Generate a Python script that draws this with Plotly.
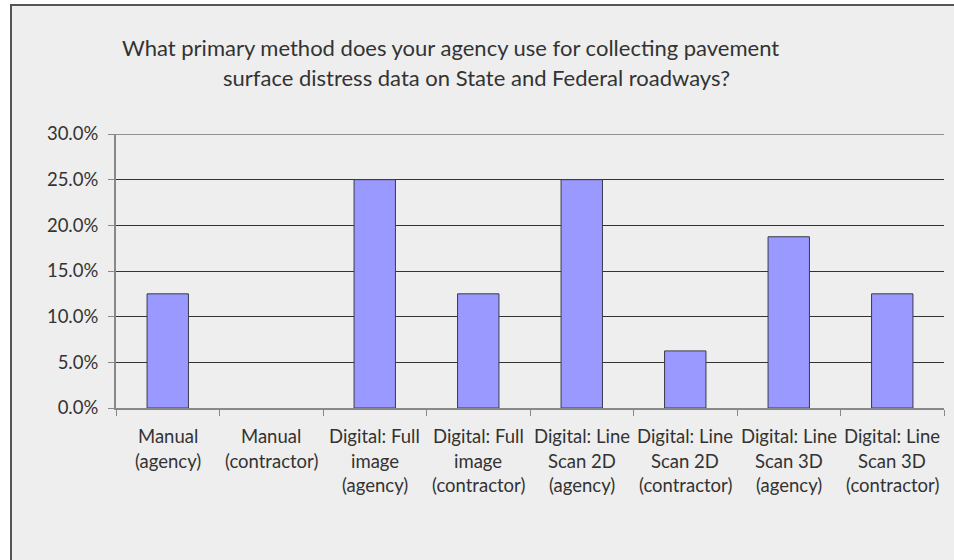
import plotly.graph_objects as go

# Survey responses: share of agencies by primary distress data collection method
categories = [
    "Manual (agency)",
    "Manual (contractor)",
    "Digital: Full image (agency)",
    "Digital: Full image (contractor)",
    "Digital: Line Scan 2D (agency)",
    "Digital: Line Scan 2D (contractor)",
    "Digital: Line Scan 3D (agency)",
    "Digital: Line Scan 3D (contractor)",
]
label_lines = [
    ["Manual", "(agency)"],
    ["Manual", "(contractor)"],
    ["Digital: Full", "image", "(agency)"],
    ["Digital: Full", "image", "(contractor)"],
    ["Digital: Line", "Scan 2D", "(agency)"],
    ["Digital: Line", "Scan 2D", "(contractor)"],
    ["Digital: Line", "Scan 3D", "(agency)"],
    ["Digital: Line", "Scan 3D", "(contractor)"],
]
shares = [0.125, 0.0, 0.25, 0.125, 0.25, 0.0625, 0.1875, 0.125]
y_ticks = [0.0, 0.05, 0.10, 0.15, 0.20, 0.25, 0.30]
title_lines = [
    "What primary method does your agency use for collecting pavement",
    "surface distress data on State and Federal roadways?",
]

FONT = "Lato"
TEXT = "#333333"
GRID = "#333333"

fig = go.Figure()
fig.add_trace(go.Bar(
    x=categories,
    y=shares,
    marker=dict(
        color="#9999FF",
        line=dict(color="#3a3a4a", width=[1 if v > 0 else 0 for v in shares]),
    ),
    hoverinfo="x+y",
))

W, H = 954, 560
ml, mr, mt, mb = 116, 10, 134, 152
pw, ph = W - ml - mr, H - mt - mb

def px_x(px):
    return (px - ml) / pw

def px_y(py):
    return (H - mb - py) / ph

shapes = [
    # Chart-area frame
    dict(
        type="rect", xref="paper", yref="paper", layer="below",
        x0=px_x(11), x1=px_x(W + 20), y0=px_y(H + 20), y1=px_y(5),
        fillcolor="#EEEEEE", line=dict(color="#555555", width=2),
    ),
    # Gridline at the top of the value range
    dict(
        type="line", xref="paper", yref="y", layer="below",
        x0=0, x1=1, y0=y_ticks[-1], y1=y_ticks[-1],
        line=dict(color=GRID, width=1),
    ),
]

annotations = []
# Title, two centred lines
for text, cx, cy in zip(title_lines, [450, 476], [47, 77]):
    annotations.append(dict(
        text=text, xref="paper", yref="paper", x=px_x(cx), y=px_y(cy),
        xanchor="center", yanchor="middle", showarrow=False,
        font=dict(family=FONT, size=22, color=TEXT),
    ))

# Category labels, one annotation per line under each bar
for cat, lines in zip(categories, label_lines):
    for i, line in enumerate(lines):
        annotations.append(dict(
            text=line, x=cat, xref="x", yref="paper", y=0,
            yshift=-(28 + 24.5 * i), xanchor="center", yanchor="middle",
            showarrow=False, font=dict(family=FONT, size=18.5, color=TEXT),
        ))

fig.update_layout(
    width=W, height=H,
    margin=dict(l=ml, r=mr, t=mt, b=mb, pad=0),
    paper_bgcolor="white",
    plot_bgcolor="rgba(0,0,0,0)",
    bargap=0.6,
    showlegend=False,
    shapes=shapes,
    annotations=annotations,
    font=dict(family=FONT, size=18, color=TEXT),
)
fig.update_xaxes(
    type="category", showticklabels=False, showgrid=False,
    showline=True, linecolor="#888888", linewidth=2,
    ticks="outside", tickson="boundaries", ticklen=6, tickcolor="#888888", tickwidth=1,
)
fig.update_yaxes(
    range=[0, 0.30], tickvals=y_ticks, tickformat=".1%",
    showgrid=True, gridcolor=GRID, gridwidth=1,
    zeroline=False, showline=True, linecolor="#888888", linewidth=2,
    ticks="outside", ticklen=6, tickcolor="#888888", tickwidth=1,
    ticklabelstandoff=6,
    tickfont=dict(family=FONT, size=18.5, color=TEXT),
)

fig.write_html("out.html")
